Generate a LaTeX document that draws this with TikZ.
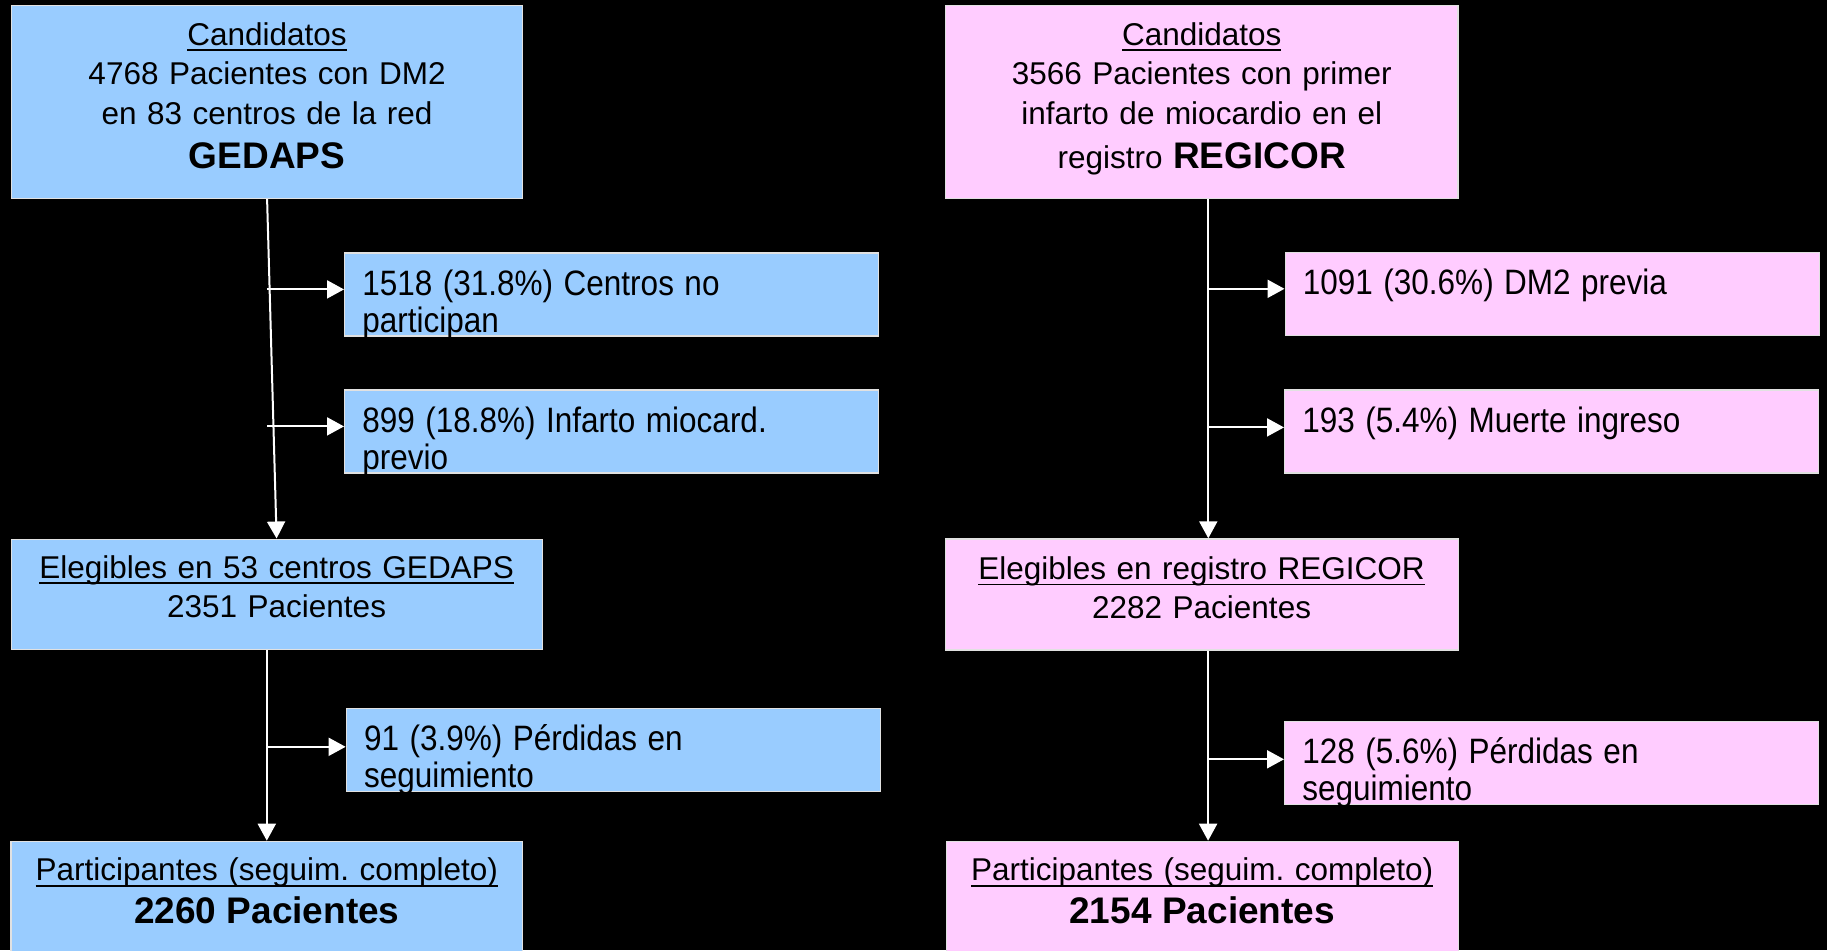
\documentclass[tikz,border=0pt]{standalone}
\usepackage{fontspec}
\setmainfont{Liberation Sans}
\usetikzlibrary{arrows.meta,positioning,calc}
\definecolor{gedcolor}{RGB}{153,204,255}
\definecolor{regcolor}{RGB}{255,204,255}
\definecolor{edgecolor}{RGB}{225,225,225}
\newsavebox{\undlbox}
\newcommand{\undl}[1]{\sbox{\undlbox}{#1}\rlap{\rule[-3pt]{\wd\undlbox}{0.85pt}}\usebox{\undlbox}}
\newcommand{\bigbold}{\fontsize{18.5}{21}\selectfont\bfseries}
\tikzset{
  flowbox/.style  = {rectangle, draw=edgecolor, line width=0.6pt, inner sep=0pt, anchor=north west},
  exbox/.style    = {flowbox, minimum width=267pt, minimum height=41.5pt},
  maintext/.style = {anchor=base, inner sep=0pt, align=center,
                     font=\fontsize{15.75}{19.75}\selectfont},
  extext/.style   = {anchor=base west, inner sep=0pt, text width=250pt, align=left,
                     font=\fontsize{15.75}{16.4}\selectfont, yscale=1.12, transform shape},
  conn/.style     = {-{Triangle[length=8.5pt,width=9pt]}, draw=white, line width=1pt}
}

\begin{document}
\begin{tikzpicture}[x=0.5pt,y=-0.5pt]

\fill[black] (0,0) rectangle (1827,950);
\useasboundingbox (0,0) rectangle (1827,950);

% -------------------- Main boxes --------------------

\node[flowbox, fill=gedcolor, minimum width=255.5pt, minimum height=96.5pt] (candG) at (11,5) {};
\node[flowbox, fill=regcolor, minimum width=256.2pt, minimum height=96.6pt] (candR) at (945,5) {};
\node[flowbox, fill=gedcolor, minimum width=265.5pt, minimum height=55.2pt] (eligG) at (10.5,538.5) {};
\node[flowbox, fill=regcolor, minimum width=256.5pt, minimum height=55.5pt] (eligR) at (944.5,538.3) {};
\node[flowbox, fill=gedcolor, minimum width=255.9pt, minimum height=57pt] (partG) at (10.3,840.7) {};
\node[flowbox, fill=regcolor, minimum width=255.9pt, minimum height=57pt] (partR) at (945.7,840.7) {};

\node[maintext, text width=255pt] (candGtxt) at ([yshift=-20pt]candG.north)
  {\undl{Candidatos}\\4768 Pacientes con DM2\\en 83 centros de la red\\[2.5pt]{\bigbold GEDAPS}};
\node[maintext, text width=255pt] (candRtxt) at ([yshift=-20pt]candR.north)
  {\undl{Candidatos}\\3566 Pacientes con primer\\infarto de miocardio en el\\[2.5pt]registro {\bigbold REGICOR}};
\node[maintext, text width=265pt] (eligGtxt) at ([yshift=-19.75pt]eligG.north)
  {\undl{Elegibles en 53 centros GEDAPS}\\2351 Pacientes};
\node[maintext, text width=255pt] (eligRtxt) at ([yshift=-20.5pt]eligR.north)
  {\undl{Elegibles en registro REGICOR}\\2282 Pacientes};
\node[maintext, text width=255pt] (partGtxt) at ([yshift=-20pt]partG.north)
  {\undl{Participantes (seguim.\ completo)}\\[1.5pt]{\bigbold 2260 Pacientes}};
\node[maintext, text width=255pt] (partRtxt) at ([yshift=-20pt]partR.north)
  {\undl{Participantes (seguim.\ completo)}\\[1.5pt]{\bigbold 2154 Pacientes}};

% -------------------- Exclusion boxes --------------------

\foreach \nm/\px/\py/\clr in {exG1/344/252.3/gedcolor, exG2/344/389.3/gedcolor,
                              lossG/345.6/707.7/gedcolor, exR1/1284.5/251.7/regcolor,
                              exR2/1284/389.3/regcolor, lossR/1284/720.7/regcolor}{
  \node[exbox, fill=\clr] (\nm) at (\px,\py) {};
}

% text clipped to its box
\foreach \nm/\txt in {exG1/{1518 (31.8\%) Centros no\\participan},
                      exG2/{899 (18.8\%) Infarto miocard.\\previo},
                      lossG/{91 (3.9\%) P\'erdidas en\\seguimiento},
                      exR1/{1091 (30.6\%) DM2 previa},
                      exR2/{193 (5.4\%) Muerte ingreso},
                      lossR/{128 (5.6\%) P\'erdidas en\\seguimiento}}{
  \begin{scope}
    \clip (\nm.south west) rectangle (\nm.north east);
    \node[extext] (\nm-txt) at ([shift={(9pt,-21.5pt)}]\nm.north west) {\txt};
  \end{scope}
}

% -------------------- Connections --------------------

% GEDAPS column
\draw[conn] (candG.south) -- (eligG.north);
\draw[conn] ([yshift=2.5pt]exG1.west -| candG.south) -- ([yshift=2.5pt]exG1.west);
\draw[conn] ([yshift=2.5pt]exG2.west -| candG.south) -- ([yshift=2.5pt]exG2.west);
\draw[conn] (eligG.south -| partG.north) -- (partG.north);
\draw[conn] ([yshift=1.5pt]lossG.west -| partG.north) -- ([yshift=1.5pt]lossG.west);

% REGICOR column
\coordinate (rtop) at ([xshift=3.25pt]candR.south);
\coordinate (rmid) at ([xshift=3.25pt]eligR.south);
\draw[conn] (rtop) -- (rtop |- eligR.north);
\draw[conn] ([yshift=2.5pt]exR1.west -| rtop) -- ([yshift=2.5pt]exR1.west);
\draw[conn] ([yshift=2pt]exR2.west -| rtop) -- ([yshift=2pt]exR2.west);
\draw[conn] (rmid) -- (rmid |- partR.north);
\draw[conn] ([yshift=1.75pt]lossR.west -| rmid) -- ([yshift=1.75pt]lossR.west);

\end{tikzpicture}
\end{document}
